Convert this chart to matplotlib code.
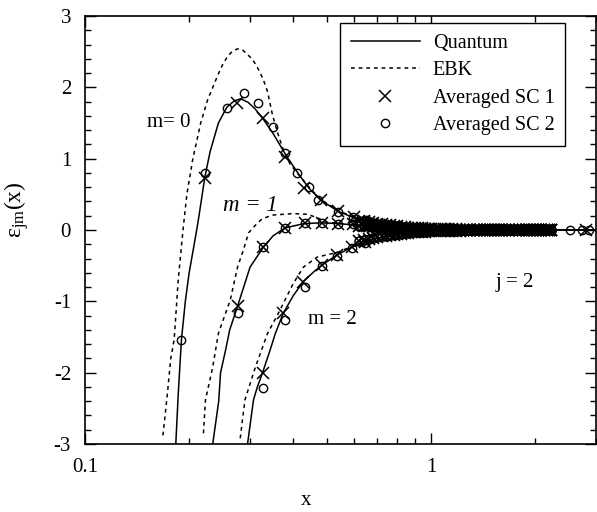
import matplotlib
matplotlib.use('Agg')
import matplotlib.pyplot as plt
from matplotlib.ticker import FixedLocator, NullFormatter, MultipleLocator

plt.rcParams['font.family'] = ['Liberation Serif', 'DejaVu Serif']
plt.rcParams['mathtext.fontset'] = 'custom'
plt.rcParams['mathtext.rm'] = 'Liberation Serif'
plt.rcParams['mathtext.it'] = 'Liberation Serif:italic'
plt.rcParams['axes.unicode_minus'] = False

# quantum curves (solid)
q0_x = [0.183, 0.186, 0.190, 0.195, 0.200, 0.206, 0.212, 0.217, 0.222, 0.230, 0.243, 0.257, 0.270, 0.282,
        0.296, 0.310, 0.328, 0.350, 0.383, 0.415, 0.445, 0.480, 0.540, 0.600, 0.660, 0.750, 0.850, 1.0, 1.3, 3.0]
q0_y = [-3.0, -2.3, -1.54, -1.0, -0.6, -0.25, 0.1, 0.42, 0.74, 1.1, 1.5, 1.72, 1.81, 1.84,
        1.79, 1.70, 1.55, 1.35, 1.03, 0.78, 0.58, 0.42, 0.26, 0.17, 0.11, 0.06, 0.03, 0.01, 0.0, 0.0]

q1_x = [0.234, 0.2435, 0.2465, 0.255, 0.262, 0.276, 0.300, 0.328, 0.350, 0.379, 0.430, 0.480,
        0.540, 0.600, 0.680, 0.800, 1.0, 3.0]
q1_y = [-3.0, -2.4, -2.0, -1.68, -1.4, -1.07, -0.52, -0.24, -0.08, 0.03, 0.09, 0.10,
        0.09, 0.07, 0.04, 0.02, 0.0, 0.0]

q2_x = [0.295, 0.307, 0.315, 0.326, 0.343, 0.355, 0.374, 0.400, 0.428, 0.460, 0.485, 0.535,
        0.590, 0.645, 0.720, 0.850, 1.0, 1.3, 3.0]
q2_y = [-3.0, -2.38, -2.2, -2.0, -1.68, -1.45, -1.17, -0.92, -0.72, -0.58, -0.49, -0.35,
        -0.24, -0.17, -0.10, -0.04, -0.02, 0.0, 0.0]

# EBK curves (dashed)
e0_x = [0.168, 0.173, 0.177, 0.181, 0.186, 0.192, 0.197, 0.205, 0.216, 0.226, 0.242, 0.250, 0.258,
        0.266, 0.276, 0.286, 0.295, 0.305, 0.315, 0.327, 0.337, 0.348, 0.360, 0.372, 0.392, 0.420,
        0.450, 0.480, 0.540, 0.600, 0.660, 0.750, 0.850, 1.0, 1.3, 2.2]
e0_y = [-2.88, -2.3, -1.8, -1.54, -0.7, 0.0, 0.5, 1.0, 1.5, 1.82, 2.17, 2.32, 2.43,
        2.50, 2.54, 2.52, 2.46, 2.39, 2.28, 2.12, 1.94, 1.62, 1.37, 1.16, 0.92, 0.74,
        0.57, 0.43, 0.27, 0.18, 0.12, 0.06, 0.03, 0.01, 0.0, 0.0]

e1_x = [0.220, 0.223, 0.234, 0.243, 0.263, 0.276, 0.287, 0.297, 0.310, 0.322, 0.335, 0.350, 0.400,
        0.440, 0.470, 0.500, 0.550, 0.600, 0.680, 0.800, 1.0, 2.2]
e1_y = [-2.85, -2.38, -1.92, -1.45, -0.98, -0.52, -0.28, -0.04, 0.06, 0.14, 0.18, 0.21, 0.23,
        0.22, 0.17, 0.11, 0.09, 0.07, 0.04, 0.02, 0.0, 0.0]

e2_x = [0.281, 0.290, 0.311, 0.337, 0.362, 0.400, 0.428, 0.469, 0.540, 0.590, 0.645, 0.720,
        0.850, 1.0, 1.3, 2.2]
e2_y = [-2.92, -2.38, -1.92, -1.45, -1.17, -0.75, -0.52, -0.38, -0.31, -0.23, -0.16, -0.10,
        -0.04, -0.02, 0.0, 0.0]

# averaged SC 1 (crosses)
sc1_x = [0.222, 0.275, 0.327, 0.378, 0.430, 0.480, 0.540, 0.600,
         0.276, 0.328, 0.379, 0.433, 0.485, 0.540, 0.596, 0.654,
         0.326, 0.374, 0.428, 0.485, 0.535, 0.590, 0.645, 2.80]
sc1_y = [0.73, 1.78, 1.57, 1.02, 0.59, 0.42, 0.27, 0.18,
         -1.07, -0.24, 0.03, 0.10, 0.10, 0.09, 0.08, 0.06,
         -2.0, -1.17, -0.73, -0.49, -0.35, -0.24, -0.17, 0.0]

# averaged SC 2 (circles)
sc2_x = [0.190, 0.222, 0.257, 0.288, 0.316, 0.349, 0.378, 0.410, 0.445, 0.472, 0.540, 0.596, 0.654,
         0.276, 0.328, 0.379, 0.433, 0.485, 0.540, 0.596, 0.654,
         0.326, 0.379, 0.433, 0.485, 0.535, 0.590, 0.645, 2.53, 2.73, 2.87]
sc2_y = [-1.54, 0.80, 1.71, 1.92, 1.78, 1.44, 1.08, 0.80, 0.60, 0.42, 0.25, 0.18, 0.14,
         -1.16, -0.24, 0.03, 0.10, 0.10, 0.09, 0.08, 0.06,
         -2.22, -1.26, -0.80, -0.51, -0.37, -0.25, -0.18, 0.0, 0.0, 0.0]

# dense markers near zero (both SC sets, all m)
dense_x = [0.62, 0.64, 0.66, 0.68, 0.70, 0.72, 0.74, 0.76, 0.78, 0.80, 0.82, 0.84, 0.86, 0.88, 0.90,
           0.92, 0.94, 0.96, 0.98, 1.00,
           1.03, 1.06, 1.09, 1.12, 1.15, 1.18, 1.21, 1.24, 1.27, 1.30, 1.33, 1.36, 1.39, 1.42, 1.45,
           1.48, 1.51, 1.54, 1.57, 1.60,
           1.64, 1.68, 1.72, 1.76, 1.80, 1.84, 1.88, 1.92, 1.96, 2.00, 2.04, 2.08, 2.12, 2.16, 2.20,
           2.23]
dense_m0 = [0.13, 0.12, 0.11, 0.10, 0.09, 0.08, 0.07, 0.065, 0.06, 0.05, 0.045, 0.04, 0.035, 0.03, 0.028,
            0.025, 0.022, 0.02, 0.018, 0.016,
            0.014, 0.012, 0.011, 0.01, 0.009, 0.008, 0.007, 0.006, 0.005, 0.005, 0.004, 0.004, 0.003, 0.003,
            0.002, 0.002, 0.002, 0.001, 0.001, 0.001,
            0.0, 0.0, 0.0, 0.0, 0.0, 0.0, 0.0, 0.0, 0.0, 0.0, 0.0, 0.0, 0.0, 0.0, 0.0, 0.0]
dense_m1 = [0.06, 0.055, 0.05, 0.045, 0.04, 0.037, 0.034, 0.03, 0.027, 0.025, 0.022, 0.02, 0.018, 0.016,
            0.014, 0.012, 0.011, 0.01, 0.009, 0.008,
            0.007, 0.006, 0.005, 0.005, 0.004, 0.004, 0.003, 0.003, 0.002, 0.002, 0.002, 0.001, 0.001,
            0.001, 0.001, 0.0, 0.0, 0.0, 0.0, 0.0,
            0.0, 0.0, 0.0, 0.0, 0.0, 0.0, 0.0, 0.0, 0.0, 0.0, 0.0, 0.0, 0.0, 0.0, 0.0, 0.0]
dense_m2 = [-0.15, -0.14, -0.12, -0.11, -0.10, -0.09, -0.08, -0.07, -0.065, -0.06, -0.05, -0.045, -0.04,
            -0.035, -0.03, -0.028, -0.025, -0.022, -0.02, -0.018,
            -0.016, -0.014, -0.012, -0.011, -0.01, -0.009, -0.008, -0.007, -0.006, -0.005, -0.004, -0.004,
            -0.003, -0.003, -0.002, -0.002, -0.001, -0.001, -0.001, 0.0,
            0.0, 0.0, 0.0, 0.0, 0.0, 0.0, 0.0, 0.0, 0.0, 0.0, 0.0, 0.0, 0.0, 0.0, 0.0, 0.0]

fig = plt.figure(figsize=(5.97, 5.12), dpi=100)
ax = fig.add_axes([85 / 597, 1 - 444 / 512, 511 / 597, 428 / 512])

dash = (0, (2.5, 2.5))
lq = None
for xs, ys in [(q0_x, q0_y), (q1_x, q1_y), (q2_x, q2_y)]:
    lq, = ax.plot(xs, ys, color='black', lw=1.1)
le = None
for xs, ys in [(e0_x, e0_y), (e1_x, e1_y), (e2_x, e2_y)]:
    le, = ax.plot(xs, ys, color='black', lw=1.1, ls=dash)

mx, = ax.plot(sc1_x, sc1_y, 'x', color='black', ms=8, mew=1.1, ls='none')
mo, = ax.plot(sc2_x, sc2_y, 'o', color='black', mfc='none', ms=6, mew=1.0, ls='none')
for dy in [dense_m0, dense_m1, dense_m2]:
    ax.plot(dense_x, dy, 'x', color='black', ms=8, mew=1.2, ls='none')
    ax.plot(dense_x, dy, 'o', color='black', mfc='none', ms=6.5, mew=1.1, ls='none')

ax.set_xscale('log')
ax.set_xlim(0.1, 3.0)
ax.set_ylim(-3, 3)
ax.xaxis.set_major_locator(FixedLocator([0.1, 1]))
ax.set_xticklabels(['0.1', '1'])
ax.xaxis.set_minor_formatter(NullFormatter())
ax.yaxis.set_major_locator(MultipleLocator(1))
ax.yaxis.set_minor_locator(MultipleLocator(0.2))
ax.tick_params(which='both', direction='in', top=True, right=True, labelsize=15, width=1.0)
ax.tick_params(which='major', length=8, pad=10)
ax.tick_params(which='minor', length=4.5)
for s in ax.spines.values():
    s.set_linewidth(1.2)

ax.set_xlabel('x', fontsize=15)
ax.xaxis.set_label_coords(0.432, -0.11)
ax.set_ylabel(r'$\mathrm{\varepsilon}_{\mathrm{jm}}\mathrm{(x)}$', fontsize=17)
ax.yaxis.set_label_coords(-0.105, 0.547)

ax.text(0.151, 1.51, 'm= 0', fontsize=15, va='center', ha='left')
ax.text(0.2505, 0.35, 'm = 1', fontsize=16.5, style='italic', va='center', ha='left')
ax.text(0.441, -1.25, 'm = 2', fontsize=15, va='center', ha='left')
ax.text(1.54, -0.74, 'j = 2', fontsize=15, va='center', ha='left')

leg = ax.legend([lq, le, mx, mo], ['Quantum', 'EBK', 'Averaged SC 1', 'Averaged SC 2'],
                loc='upper left', bbox_to_anchor=(0.499, 0.984), borderaxespad=0,
                fontsize=14.5, handlelength=3.4, handletextpad=0.65, labelspacing=0.41,
                borderpad=0.55, numpoints=1, fancybox=False, framealpha=1, edgecolor='black')
leg.get_frame().set_linewidth(1.0)

fig.savefig('out.png', dpi=100)
